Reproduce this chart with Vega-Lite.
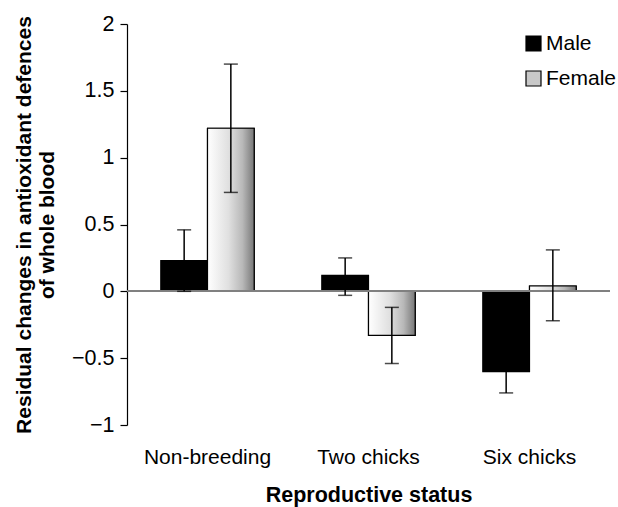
{
  "$schema": "https://vega.github.io/schema/vega-lite/v6.json",
  "autosize": "none",
  "width": 483,
  "height": 401,
  "padding": {"left": 127, "top": 24, "right": 8, "bottom": 82},
  "background": "white",
  "config": {
    "view": {"stroke": null},
    "font": "Liberation Sans"
  },
  "data": {
    "values": [
      {"status": "Non-breeding", "sex": "Male", "value": 0.23, "lo": 0.0, "hi": 0.46},
      {"status": "Non-breeding", "sex": "Female", "value": 1.22, "lo": 0.74, "hi": 1.70},
      {"status": "Two chicks", "sex": "Male", "value": 0.12, "lo": -0.03, "hi": 0.25},
      {"status": "Two chicks", "sex": "Female", "value": -0.33, "lo": -0.54, "hi": -0.12},
      {"status": "Six chicks", "sex": "Male", "value": -0.60, "lo": -0.76, "hi": -0.44},
      {"status": "Six chicks", "sex": "Female", "value": 0.04, "lo": -0.22, "hi": 0.31}
    ]
  },
  "encoding": {
    "x": {
      "field": "status",
      "type": "nominal",
      "sort": ["Non-breeding", "Two chicks", "Six chicks"],
      "scale": {"paddingInner": 0.42, "paddingOuter": 0.21},
      "axis": {
        "title": "Reproductive status",
        "labelAngle": 0,
        "domain": false,
        "ticks": false,
        "labelFontSize": 21,
        "labelColor": "black",
        "labelPadding": 21,
        "titleFontSize": 21.5,
        "titleFontWeight": "bold",
        "titleColor": "black",
        "titlePadding": 17
      }
    },
    "xOffset": {"field": "sex", "type": "nominal", "sort": ["Male", "Female"], "scale": {"paddingInner": 0, "paddingOuter": 0}}
  },
  "layer": [
    {
      "mark": {"type": "bar", "stroke": "black", "strokeWidth": 1.2, "opacity": 1},
      "encoding": {
        "y": {
          "field": "value",
          "type": "quantitative",
          "scale": {"domain": [-1, 2], "nice": false, "zero": false},
          "axis": {
            "values": [-1, -0.5, 0, 0.5, 1, 1.5, 2],
            "format": "~g",
            "grid": false,
            "domainColor": "black",
            "domainWidth": 1.2,
            "tickColor": "black",
            "tickSize": 7,
            "tickWidth": 1.2,
            "labelFontSize": 21.5,
            "labelColor": "black",
            "labelPadding": 6,
            "title": ["Residual changes in antioxidant defences", "of whole blood"],
            "titleFontSize": 21,
            "titleFontWeight": "bold",
            "titleColor": "black",
            "titleLineHeight": 23,
            "titlePadding": 14
          }
        },
        "color": {
          "field": "sex",
          "type": "nominal",
          "scale": {"domain": ["Male", "Female"], "range": ["black", "#c8c8c8"]},
          "legend": {
            "title": null,
            "orient": "none",
            "legendX": 396,
            "legendY": 9,
            "symbolType": "square",
            "symbolSize": 225,
            "symbolStrokeColor": "black",
            "symbolStrokeWidth": 1.2,
            "symbolOpacity": 1,
            "labelFontSize": 21,
            "labelColor": "black",
            "labelOffset": 2,
            "rowPadding": 13,
            "encode": {
              "symbols": {
                "update": {
                  "stroke": {"value": "black"},
                  "strokeWidth": {"value": 1.2}
                }
              }
            }
          }
        }
      }
    },
    {
      "transform": [{"filter": "datum.sex === 'Female'"}],
      "mark": {
        "type": "bar", "stroke": "black", "strokeWidth": 1.2, "opacity": 1,
        "fill": {"gradient": "linear", "x1": 0, "y1": 0, "x2": 1, "y2": 0,
          "stops": [
            {"offset": 0, "color": "#ffffff"},
            {"offset": 0.45, "color": "#e0e0e0"},
            {"offset": 0.75, "color": "#b8b8b8"},
            {"offset": 1, "color": "#777777"}
          ]}
      },
      "encoding": {"y": {"field": "value", "type": "quantitative"}}
    },
    {
      "mark": {"type": "rule", "color": "#808080", "strokeWidth": 1.5},
      "encoding": {"y": {"datum": 0}, "x": {"value": 0}, "x2": {"value": 483}, "xOffset": {"value": 0}}
    },
    {
      "mark": {"type": "rule", "color": "black", "strokeWidth": 1.5},
      "encoding": {
        "y": {"field": "lo", "type": "quantitative"},
        "y2": {"field": "hi"}
      }
    },
    {
      "mark": {"type": "tick", "color": "black", "thickness": 1.5, "size": 14},
      "encoding": {"y": {"field": "lo", "type": "quantitative"}}
    },
    {
      "mark": {"type": "tick", "color": "black", "thickness": 1.5, "size": 14},
      "encoding": {"y": {"field": "hi", "type": "quantitative"}}
    }
  ]
}
